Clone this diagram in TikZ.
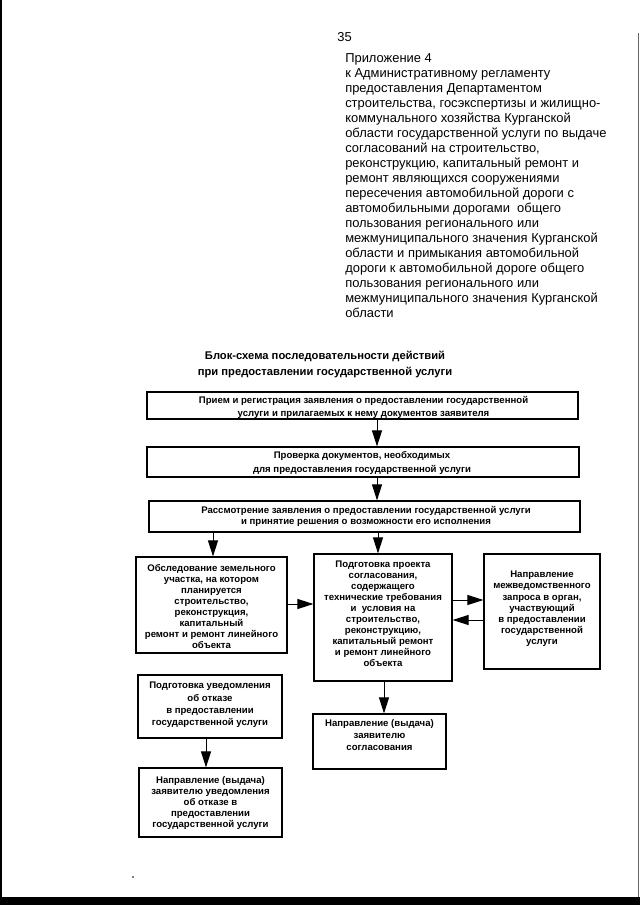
\documentclass[tikz,border=0pt]{standalone}
\usepackage{fontspec}
\setmainfont{Liberation Sans}
\usetikzlibrary{arrows.meta}
\begin{document}
\begin{tikzpicture}[x=0.75pt,y=-0.75pt,
  box/.style={draw, line width=0.9pt, inner sep=0pt},
  txt/.style={font=\fontsize{7.2}{#1}\selectfont\bfseries, align=center, inner sep=0pt},
  arr/.style={-{Triangle[length=12pt,width=7.5pt]}, line width=0.75pt},
  hdrtext/.style={font=\fontsize{9.7}{11.25}\selectfont, align=left, inner sep=0pt}]
\useasboundingbox (0,0) rectangle (640,905);
\fill[white] (0,0) rectangle (640,905);
% scan edges
\fill[black] (0,0) rectangle (1.8,905);
\fill[black] (0,897) rectangle (640,905);
\draw[line width=0.6pt, black!60] (638.5,33) -- (638.5,897);
\fill[black] (133,877) circle (0.9);

% header
\node[font=\fontsize{9.7}{12}\selectfont, inner sep=0pt] (pg) at (344.5,37) {35};
\node[hdrtext, anchor=north west] (hdr) at (345,53.5) {Приложение 4\\
к Административному регламенту\\
предоставления Департаментом\\
строительства, госэкспертизы и жилищно-\\
коммунального хозяйства Курганской\\
области государственной услуги по выдаче\\
согласований на строительство,\\
реконструкцию, капитальный ремонт и\\
ремонт являющихся сооружениями\\
пересечения автомобильной дороги с\\
автомобильными дорогами~ общего\\
пользования регионального или\\
межмуниципального значения Курганской\\
области и примыкания автомобильной\\
дороги к автомобильной дороге общего\\
пользования регионального или\\
межмуниципального значения Курганской\\
области};

\node[font=\fontsize{8.4}{12}\selectfont\bfseries, align=center, inner sep=0pt] (title) at (325,364) {Блок-схема последовательности действий\\при предоставлении государственной услуги};

% boxes
\node[box, minimum width=323.25pt, minimum height=20.25pt] (b1) at (362.5,405.5) {};
\node[box, minimum width=324pt, minimum height=22.5pt] (b2) at (363,462) {};
\node[box, minimum width=323.25pt, minimum height=23.25pt] (b3) at (364.5,516.5) {};
\node[box, minimum width=113.25pt, minimum height=72pt] (b4) at (211.5,605) {};
\node[box, minimum width=103.5pt, minimum height=95.25pt] (b5) at (383,617.5) {};
\node[box, minimum width=87pt, minimum height=86.25pt] (b6) at (542,611.5) {};
\node[box, minimum width=108pt, minimum height=47.25pt] (b7) at (210,706.5) {};
\node[box, minimum width=107.25pt, minimum height=51.75pt] (b8) at (210.5,802.5) {};
\node[box, minimum width=99.75pt, minimum height=41.25pt] (b9) at (379.5,741.5) {};

% texts
\node[txt=9.75] (t1) at (363.5,407) {Прием и регистрация заявления о предоставлении государственной\\услуги и прилагаемых к нему документов заявителя};
\node[txt=10.5] (t2) at (362,462.5) {Проверка документов, необходимых\\для предоставления государственной услуги};
\node[txt=8.25] (t3) at (366,516) {Рассмотрение заявления о предоставлении государственной услуги\\и принятие решения о возможности его исполнения};
\node[txt=8.3] (t4) at (211.5,606.5) {Обследование земельного\\участка, на котором\\планируется\\строительство,\\реконструкция,\\капитальный\hspace*{24pt}\\ремонт и ремонт линейного\\объекта};
\node[txt=8.25] (t5) at (383,614) {Подготовка проекта\\согласования,\\содержащего\\технические требования\\и~ условия на\\строительство,\\реконструкцию,\\капитальный ремонт\\и ремонт линейного\\объекта};
\node[txt=8.4] (t6) at (542,609) {Направление\\межведомственного\\запроса в орган,\\участвующий\\в предоставлении\\государственной\\услуги};
\node[txt=9.2] (t7) at (210,705) {Подготовка уведомления\\об отказе\\в предоставлении\\государственной услуги};
\node[txt=8.4] (t8) at (210.5,803) {Направление (выдача)\\заявителю уведомления\\об отказе в\\предоставлении\\государственной услуги};
\node[txt=9] (t9) at (379.5,735.5) {Направление (выдача)\\заявителю\\согласования};

% connector guides
\coordinate (xa) at (377,0);
\coordinate (xb) at (213,0);
\coordinate (xc) at (378,0);
\coordinate (xd) at (206,0);
\coordinate (xe) at (384,0);
\coordinate (ya) at (0,604);
\coordinate (yb) at (0,600);
\coordinate (yc) at (0,620);

\draw[arr] (b1.south -| xa) -- (b2.north -| xa);
\draw[arr] (b2.south -| xa) -- (b3.north -| xa);
\draw[arr] (b3.south -| xb) -- (b4.north -| xb);
\draw[arr] (b3.south -| xc) -- (b5.north -| xc);
\draw[arr] (b4.east |- ya) -- (b5.west |- ya);
\draw[arr] (b5.east |- yb) -- (b6.west |- yb);
\draw[arr] (b6.west |- yc) -- (b5.east |- yc);
\draw[arr] (b7.south -| xd) -- (b8.north -| xd);
\draw[arr] (b5.south -| xe) -- (b9.north -| xe);
\end{tikzpicture}
\end{document}
